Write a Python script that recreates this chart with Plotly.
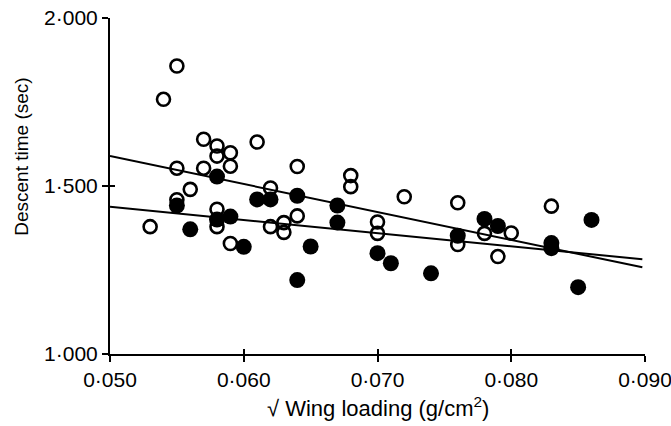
import plotly.graph_objects as go

# Open circles
open_x = [0.055, 0.054, 0.057, 0.058, 0.059, 0.058, 0.061, 0.055, 0.057, 0.059,
          0.056, 0.055, 0.062, 0.053, 0.058, 0.058, 0.059, 0.062, 0.063, 0.063,
          0.064, 0.064, 0.068, 0.068, 0.072, 0.070, 0.070, 0.076, 0.076, 0.078,
          0.080, 0.079, 0.083]
open_y = [1.857, 1.758, 1.639, 1.619, 1.599, 1.589, 1.631, 1.553, 1.553, 1.559,
          1.490, 1.459, 1.494, 1.379, 1.431, 1.379, 1.329, 1.379, 1.391, 1.362,
          1.411, 1.558, 1.531, 1.498, 1.468, 1.393, 1.359, 1.450, 1.326, 1.359,
          1.360, 1.290, 1.440]

# Filled circles
filled_x = [0.055, 0.058, 0.056, 0.058, 0.059, 0.060, 0.061, 0.062, 0.064, 0.064,
            0.065, 0.067, 0.067, 0.070, 0.071, 0.074, 0.076, 0.078, 0.079, 0.083,
            0.083, 0.086, 0.085]
filled_y = [1.442, 1.528, 1.371, 1.400, 1.409, 1.319, 1.460, 1.460, 1.471, 1.220,
            1.320, 1.442, 1.391, 1.300, 1.270, 1.240, 1.352, 1.402, 1.381, 1.330,
            1.315, 1.399, 1.199]

# Regression lines (endpoints)
fit_x = [0.050, 0.0898]
open_fit_y = [1.589, 1.258]
filled_fit_y = [1.438, 1.282]

x_ticks = [0.050, 0.060, 0.070, 0.080, 0.090]
x_ticktext = ["0·050", "0·060", "0·070", "0·080", "0·090"]
y_ticks = [1.0, 1.5, 2.0]
y_ticktext = ["1·000", "1·500", "2·000"]

FONT = "Liberation Sans, Arial, Helvetica, sans-serif"

fig = go.Figure()
fig.add_trace(go.Scatter(x=fit_x, y=open_fit_y, mode="lines",
                         line=dict(color="black", width=2), xaxis="x2", yaxis="y2",
                         hoverinfo="skip"))
fig.add_trace(go.Scatter(x=fit_x, y=filled_fit_y, mode="lines",
                         line=dict(color="black", width=2), xaxis="x2", yaxis="y2",
                         hoverinfo="skip"))
fig.add_trace(go.Scatter(x=open_x, y=open_y, mode="markers",
                         marker=dict(symbol="circle-open", size=13, color="black",
                                     line=dict(width=2.6, color="black"))))
fig.add_trace(go.Scatter(x=filled_x, y=filled_y, mode="markers",
                         marker=dict(symbol="circle", size=16, color="black",
                                     line=dict(width=0))))

common_axis = dict(showgrid=False, zeroline=False, color="black", automargin=False)
fig.update_layout(
    template="none",
    width=671, height=426,
    margin=dict(l=110, r=26, t=18, b=72, autoexpand=False),
    paper_bgcolor="white", plot_bgcolor="white",
    showlegend=False,
    font=dict(family=FONT, size=21, color="black"),
    xaxis=dict(range=[0.050, 0.090], tickvals=x_ticks, ticktext=x_ticktext,
               ticks="outside", ticklen=6, tickwidth=2, tickcolor="black",
               showline=True, linecolor="black", linewidth=2,
               ticklabeloverflow="allow",
               tickfont=dict(family=FONT, size=21, color="black"), **common_axis),
    yaxis=dict(range=[1.0, 2.0], tickvals=y_ticks, ticktext=y_ticktext,
               ticks="outside", ticklen=6, tickwidth=2, tickcolor="black",
               showline=True, linecolor="black", linewidth=2,
               ticklabeloverflow="allow",
               tickfont=dict(family=FONT, size=21, color="black"), **common_axis),
    xaxis2=dict(range=[0.050, 0.090], overlaying="x", anchor="y2",
                tickvals=x_ticks, ticks="inside", ticklen=5, tickwidth=2,
                tickcolor="black", showticklabels=False, showline=False, **common_axis),
    yaxis2=dict(range=[1.0, 2.0], overlaying="y", anchor="x2",
                tickvals=y_ticks, ticks="inside", ticklen=5, tickwidth=2,
                tickcolor="black", showticklabels=False, showline=False, **common_axis),
    annotations=[
        dict(text="√ Wing loading (g/cm<sup>2</sup>)", xref="paper", yref="paper",
             x=0.501, y=-0.205, xanchor="center", yanchor="bottom", showarrow=False,
             font=dict(family=FONT, size=22, color="black")),
        dict(text="Descent time (sec)", xref="paper", yref="paper",
             x=-0.1645, y=0.587, xanchor="center", yanchor="middle", showarrow=False,
             textangle=-90, font=dict(family=FONT, size=19, color="black")),
    ],
)

fig.write_html("out.html",
               config={"displayModeBar": False},
               post_script="document.body.style.margin='0';document.body.style.overflow='hidden';")
